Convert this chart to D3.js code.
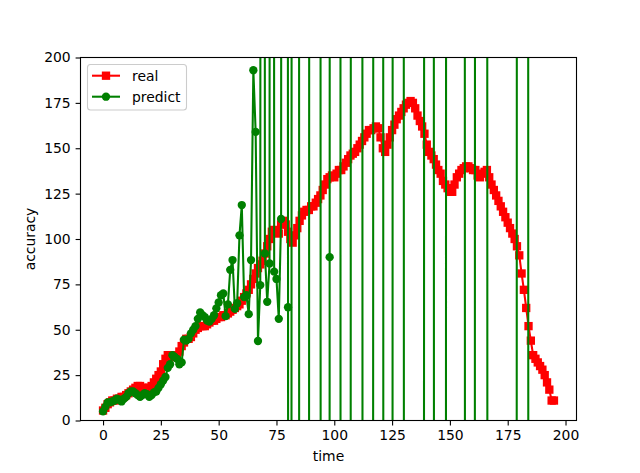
<!DOCTYPE html>
<html>
<head>
<meta charset="utf-8">
<script src="https://cdn.jsdelivr.net/npm/d3@7"></script>
<style>
  html, body { margin: 0; padding: 0; background: #fff; }
  svg { display: block; font-family: "DejaVu Sans", sans-serif; }
</style>
</head>
<body>
<svg id="chart" width="640" height="473"></svg>
<script>
// ---- data ----
const xTicks = [0, 25, 50, 75, 100, 125, 150, 175, 200];
const yTicks = [0, 25, 50, 75, 100, 125, 150, 175, 200];
const xLabel = "time";
const yLabel = "accuracy";
const seriesNames = ["real", "predict"];

const realValues = [
  5.5, 7, 9, 10, 11, 11, 12, 12, 13, 13,
  14, 15, 16, 17, 18, 19, 19, 18, 18, 17,
  18, 19, 21, 23, 25, 27, 31, 34, 36, 36,
  35, 35, 36, 38, 41, 43, 45, 45, 46, 48,
  50, 51, 52, 52, 52, 53, 54, 55, 55, 56,
  57, 57, 58, 58, 59, 60, 61, 62, 63, 64,
  66, 68, 70, 72, 75, 78, 81, 84, 86, 88,
  92, 96, 100, 104, 105, 104, 103, 108, 110, 108,
  104, 100, 98, 102, 106, 110, 113, 115, 116, 116,
  118, 118, 120, 122, 124, 127, 130, 133, 134, 135,
  134, 136, 138, 138, 140, 142, 144, 146, 147, 148,
  150, 152, 154, 156, 158, 160, 160, 161, 162, 161,
  156, 150, 148, 152, 156, 160, 163, 166, 168, 170,
  172, 174, 175, 176, 175, 172, 168, 165, 162, 158,
  152, 148, 146, 144, 141, 138, 136, 132, 130, 128,
  126, 126, 130, 134, 136, 138, 139, 140, 140, 139,
  138, 138, 135, 134, 136, 137, 138, 134, 130, 127,
  124, 121, 118, 115, 112, 109, 106, 103, 100, 96,
  91, 81, 72, 62, 52, 44, 36, 34, 32, 30,
  28, 25, 21, 17, 11, 11
];

const predictValues = [
  5, 7.5, 10, 10, 10.5, 11, 12, 11.5, 10.5, 12,
  13, 15, 16, 16, 15, 14, 13, 14, 15, 14.5,
  13, 14, 15.5, 16, 18, 20, 22, 24, 29, 31,
  36, 35, 34, 31, 32, 44.5, 44, 45, 48, 50,
  52, 56, 59.5, 58, 57, 55, 54.5, 56, 58, 61.8,
  65, 69, 70, 57.5, 64, 83, 88.4, 61.5, 64.6, 102,
  118.7, 68, 69, 58.6, 88.4, 193, 159, 43.8, 74.6, 3500,
  92, 65.4, 86.5, 4000, 82, 78, 56, 111, 3000, 2500,
  62.4, -3000, 3000, 4000, 8000, -2000, -3000, -2500, -4000, -500,
  4500, 3000, 3500, 2000, 500, -4500, -3000, -6000, 90, 6000,
  4000, 5000, 7000, -3000, -4000, -2500, -3500, -500, 4500, 3000,
  4000, 3500, 1000, -4000, -3000, -2000, -4000, 1000, 3000, 2500,
  3500, 1000, -4000, -3000, -2000, -1000, 4000, 3000, 2500, 3500,
  500, -4500, -3500, -3000, -4000, -2500, -3000, -3500, -4000, 1000,
  3000, 2000, 3500, 500, -4500, -3000, -2000, -2500, -1500, 3500,
  3000, 2500, 4000, 3000, 3500, 2000, 2500, -2500, -3000, -2000,
  -4000, 1000, 3000, 2500, 3500, 2000, 1000, -4000, -3000, -3500,
  -2500, -3000, -4000, -3500, -3000, -2000, -3000, -4000, -4500, 500,
  3000, 2000, 3500, 4500, -500, -3000, -2500, -3500, -4000, -3000,
  -2500, -3000, -3500, -4000, -3000, -2500
];

// ---- layout ----
const svg = d3.select("#chart");
const L = 80.5, R = 576.5, T = 57.5, B = 420.5;
const x = d3.scaleLinear().domain([-9.75, 204.75]).range([L, R]);
const y = d3.scaleLinear().domain([0, 200]).range([B, T]);
const FS = 13.9;

svg.append("rect").attr("width", 640).attr("height", 473).attr("fill", "#fff");

svg.append("defs").append("clipPath").attr("id", "clip")
  .append("rect").attr("x", L).attr("y", T).attr("width", R - L).attr("height", B - T);

const plot = svg.append("g").attr("clip-path", "url(#clip)");

const line = d3.line().x((d, i) => x(i)).y(d => y(d));
const MS = 8.33;

// real series
plot.append("path").datum(realValues)
  .attr("d", line).attr("fill", "none").attr("stroke", "#ff0000")
  .attr("stroke-width", 2.08).attr("stroke-linejoin", "round");
plot.selectAll(".sq").data(realValues).enter().append("rect")
  .attr("x", (d, i) => x(i) - MS / 2).attr("y", d => y(d) - MS / 2)
  .attr("width", MS).attr("height", MS).attr("fill", "#ff0000");

// predict series
plot.append("path").datum(predictValues)
  .attr("d", line).attr("fill", "none").attr("stroke", "#008000")
  .attr("stroke-width", 2.08).attr("stroke-linejoin", "round");
plot.selectAll(".ci").data(predictValues.map((v, i) => [i, v]).filter(p => p[1] > -20 && p[1] < 220))
  .enter().append("circle")
  .attr("cx", d => x(d[0])).attr("cy", d => y(d[1]))
  .attr("r", MS / 2).attr("fill", "#008000");

// axes
const xAxis = d3.axisBottom(x).tickValues(xTicks).tickSize(4.9).tickPadding(4.9).tickFormat(d3.format("d"));
const yAxis = d3.axisLeft(y).tickValues(yTicks).tickSize(4.9).tickPadding(4.9).tickFormat(d3.format("d"));

const gx = svg.append("g").attr("transform", `translate(0,${B})`).call(xAxis);
const gy = svg.append("g").attr("transform", `translate(${L},0)`).call(yAxis);
[gx, gy].forEach(g => {
  g.select(".domain").remove();
  g.selectAll("line").attr("stroke", "#000").attr("stroke-width", 1.1);
  g.selectAll("text").attr("fill", "#000").attr("font-size", FS)
    .attr("font-family", "DejaVu Sans, sans-serif");
});

// frame
svg.append("rect").attr("x", L).attr("y", T).attr("width", R - L).attr("height", B - T)
  .attr("fill", "none").attr("stroke", "#000").attr("stroke-width", 1.1);

// axis labels
svg.append("text").attr("x", (L + R) / 2).attr("y", 461).attr("text-anchor", "middle")
  .attr("font-size", FS).text(xLabel);
svg.append("text").attr("transform", `translate(35,${(T + B) / 2}) rotate(-90)`)
  .attr("text-anchor", "middle").attr("font-size", FS).text(yLabel);

// legend
const lg = svg.append("g");
lg.append("rect").attr("x", 87.5).attr("y", 64.5).attr("width", 99).attr("height", 45.5)
  .attr("rx", 3).attr("fill", "#fff").attr("fill-opacity", 0.8)
  .attr("stroke", "#cccccc").attr("stroke-width", 1.1);
const colors = ["#ff0000", "#008000"];
seriesNames.forEach((name, k) => {
  const cy = 75.7 + k * 21;
  lg.append("line").attr("x1", 92).attr("x2", 120).attr("y1", cy).attr("y2", cy)
    .attr("stroke", colors[k]).attr("stroke-width", 2.08);
  if (k === 0) {
    lg.append("rect").attr("x", 106 - MS / 2).attr("y", cy - MS / 2)
      .attr("width", MS).attr("height", MS).attr("fill", colors[k]);
  } else {
    lg.append("circle").attr("cx", 106).attr("cy", cy).attr("r", MS / 2).attr("fill", colors[k]);
  }
  lg.append("text").attr("x", 132).attr("y", cy + 5).attr("font-size", FS).text(name);
});
</script>
</body>
</html>
